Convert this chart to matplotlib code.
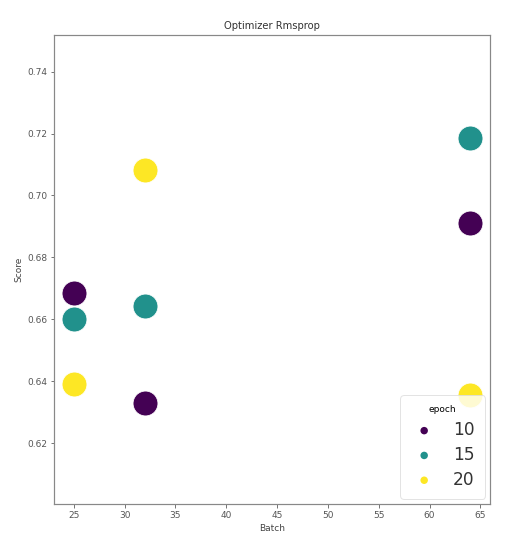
import matplotlib
matplotlib.use("Agg")
import matplotlib.pyplot as plt
import numpy as np

batch = [25, 32, 64, 25, 32, 64, 25, 32, 64]
epoch = [10, 10, 10, 15, 15, 15, 20, 20, 20]
score = [0.6684, 0.6329, 0.6912, 0.6600, 0.6643, 0.7184, 0.6392, 0.7082, 0.6355]
epochs = [10, 15, 20]

dpi = 72
fig = plt.figure(figsize=(521 / dpi, 542 / dpi), dpi=dpi)
ax = fig.add_axes([54 / 521, 1 - 504 / 542, (490 - 54) / 521, (504 - 35) / 542])

cmap = plt.get_cmap("viridis")
b = np.array(batch)
e = np.array(epoch)
s = np.array(score)
for i, ep in enumerate(epochs):
    m = e == ep
    c = cmap(i / (len(epochs) - 1))
    ax.scatter(b[m], s[m], s=620, color=c, edgecolors="white", linewidths=0.8,
               label=str(ep), zorder=3)

ax.set_xlim(23.05, 65.95)
ax.set_ylim(0.6004, 0.7518)
ax.set_xticks(np.arange(25, 66, 5))
ax.set_yticks([0.62, 0.64, 0.66, 0.68, 0.70, 0.72, 0.74])
ax.set_yticklabels([f"{v:.2f}" for v in [0.62, 0.64, 0.66, 0.68, 0.70, 0.72, 0.74]])
for sp in ax.spines.values():
    sp.set_color("#888888")
    sp.set_linewidth(1.2)
ax.tick_params(colors="#555555", labelsize=9)
ax.set_title("Optimizer Rmsprop", fontsize=10, color="#333333")
ax.set_xlabel("Batch", fontsize=9, color="#444444")
ax.set_ylabel("Score", fontsize=9, color="#444444")

leg = ax.legend(title="epoch", loc="lower right", fontsize=17, title_fontsize=9,
                markerscale=0.3, frameon=True, handletextpad=0.9, handlelength=1.6,
                borderpad=0.6, labelspacing=0.4, borderaxespad=0.3)
for h in leg.legend_handles:
    h.set_edgecolor("none")
leg.get_frame().set_edgecolor("#dddddd")
for t in leg.get_texts():
    t.set_color("#333333")

fig.savefig("out.png", dpi=dpi)
